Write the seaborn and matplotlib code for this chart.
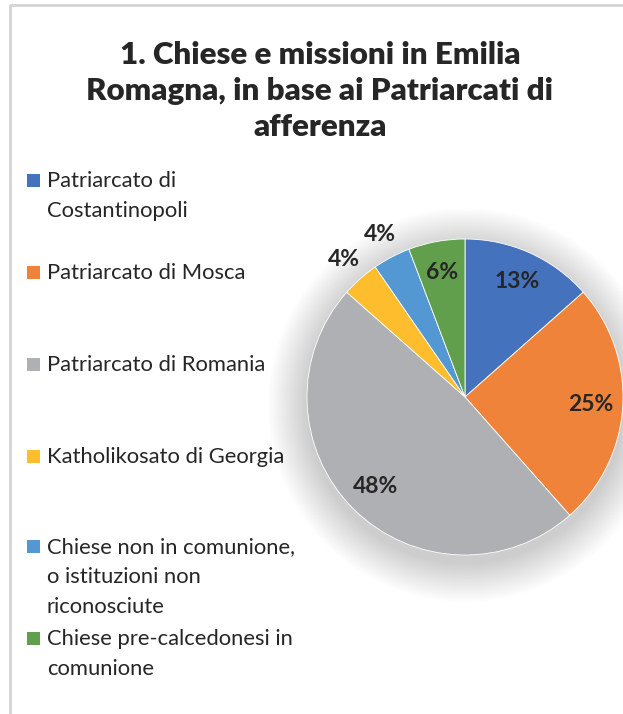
import numpy as np
import matplotlib.pyplot as plt
import seaborn as sns
from matplotlib.patches import Circle, Rectangle

# ---------------------------------------
# Data
# ---------------------------------------
TITLE = "1. Chiese e missioni in Emilia\nRomagna, in base ai Patriarcati di\nafferenza"

CATEGORIES = [
    "Patriarcato di\nCostantinopoli",
    "Patriarcato di Mosca",
    "Patriarcato di Romania",
    "Katholikosato di Georgia",
    "Chiese non in comunione,\no istituzioni non\nriconosciute",
    "Chiese pre-calcedonesi in\ncomunione",
]
COUNTS = [7, 13, 25, 2, 2, 3]
COLORS = ["#4472BC", "#F0833A", "#AFB0B3", "#FDBD2C", "#5398D3", "#619F4C"]

# ---------------------------------------
# Settings
# ---------------------------------------
sns.set_theme(style="white")
plt.rcParams["font.family"] = ["Lato", "DejaVu Sans"]

W, H = 623, 714
fig = plt.figure(figsize=(W / 100, H / 100), dpi=100)
fig.patch.set_facecolor("white")

# frame of the chart area (top and left edges visible)
frame = fig.add_axes([0, 0, 1, 1])
frame.set_xlim(0, W)
frame.set_ylim(H, 0)
frame.axis("off")
frame.plot([10, 10, W], [H, 5, 5], color="#D4D4D4", lw=2, solid_capstyle="butt")

# title
fig.text(320 / W, 1 - 91 / H, TITLE, ha="center", va="center",
         fontsize=22.5, fontweight="heavy", color="#262626", linespacing=1.33)

# legend drawn entry by entry, one slot per category
slot_top = 181
slot_step = 92
for i, (lab, col) in enumerate(zip(CATEGORIES, COLORS)):
    y = slot_top + i * slot_step - (2 if i >= 4 else 0)
    frame.add_patch(Rectangle((27, y - 7), 13, 13, color=col, lw=0))
    frame.text(47, y - 10, lab, ha="left", va="top", fontsize=15.8,
               color="#262626", linespacing=1.62)

# pie
cx, cy, r = 465, 397, 158
ax = fig.add_axes([(cx - r) / W, 1 - (cy + r) / H, 2 * r / W, 2 * r / H])

wedges, texts, autotexts = ax.pie(
    COUNTS,
    colors=COLORS,
    startangle=90,
    counterclock=False,
    radius=1.0,
    autopct=lambda p: f"{p:.0f}%",
    pctdistance=0.8,
    wedgeprops=dict(linewidth=0.6, edgecolor="white"),
    textprops=dict(fontsize=16.5, fontweight="bold", color="#262626"),
)
ax.set_xlim(-1, 1)
ax.set_ylim(-1, 1)
ax.set_aspect("equal")
ax.axis("off")

# soft shadow under the pie
for k in range(50):
    rr = 1.0 + 0.005 * (k + 1)
    ax.add_patch(Circle((0.0, -0.05), rr, color="black", alpha=0.0035, lw=0,
                        zorder=0, clip_on=False))

for w in wedges:
    w.set_clip_on(False)
    w.set_zorder(2)

total = sum(COUNTS)
for w, t, c in zip(wedges, autotexts, COUNTS):
    t.set_zorder(3)
    t.set_clip_on(False)
    if c / total < 0.05:
        ang = np.deg2rad((w.theta1 + w.theta2) / 2)
        t.set_position((1.16 * np.cos(ang), 1.16 * np.sin(ang)))

fig.savefig("out.png", dpi=100)
plt.close(fig)
